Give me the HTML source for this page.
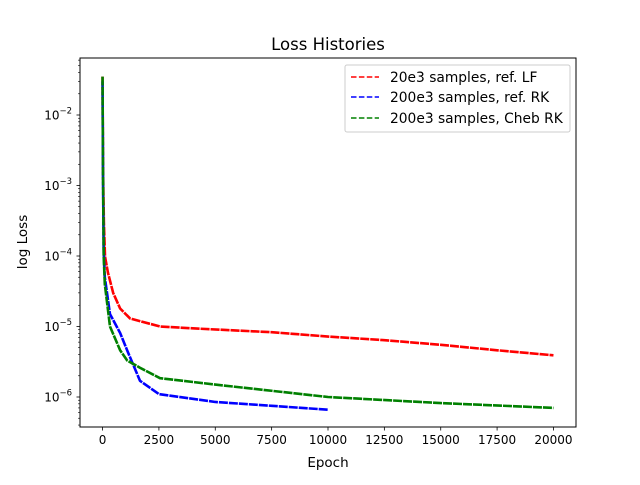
<!DOCTYPE html>
<html><head><meta charset="utf-8"><style>
body{margin:0;background:#fff}
svg{font-family:"DejaVu Sans","Liberation Sans",sans-serif}
</style></head><body>
<svg id="chart" width="640" height="480" viewBox="0 0 640 480">
<rect width="640" height="480" fill="#fff"/>
<text x="328" y="50" font-size="16.5" text-anchor="middle">Loss Histories</text>
<g id="plot"></g>
<rect x="80" y="58" width="496" height="369" fill="none" stroke="#000" stroke-width="1"/>
<text x="328" y="467" font-size="13.5" text-anchor="middle">Epoch</text>
<text transform="translate(27,242) rotate(-90)" font-size="13.5" text-anchor="middle">log Loss</text>
<g>
<rect x="345" y="65" width="225" height="67" rx="2" fill="#fff" fill-opacity="0.8" stroke="#ccc"/>
<g><line x1="351" y1="77" x2="379" y2="77" stroke="red" stroke-width="1.5" stroke-dasharray="5.5,2.4"/><text x="390" y="82" font-size="13.8">20e3 samples, ref. LF</text></g>
<g><line x1="351" y1="97" x2="379" y2="97" stroke="blue" stroke-width="1.5" stroke-dasharray="5.5,2.4"/><text x="390" y="102" font-size="13.8">200e3 samples, ref. RK</text></g>
<g><line x1="351" y1="118" x2="379" y2="118" stroke="green" stroke-width="1.5" stroke-dasharray="5.5,2.4"/><text x="390" y="123" font-size="13.8">200e3 samples, Cheb RK</text></g>
</g>
</svg>
<script>
const xTicks=[0,2500,5000,7500,10000,12500,15000,17500,20000];
const yDecades=[-2,-3,-4,-5,-6];
const redEpochs=[0,20,60,110,240,470,780,1220,2550,4320,7500,10000,12500,15000,17500,20000];
const redLoss=[0.035,2e-3,3e-4,9.8e-5,5.8e-5,3.0e-5,1.8e-5,1.3e-5,1.0e-5,9.3e-6,8.3e-6,7.2e-6,6.4e-6,5.5e-6,4.6e-6,3.9e-6];
const blueEpochs=[0,20,50,100,330,780,1090,1660,2500,5000,7500,10000];
const blueLoss=[0.03,1.5e-3,1.2e-4,5e-5,1.5e-5,8.1e-6,4.6e-6,1.7e-6,1.1e-6,8.5e-7,7.5e-7,6.6e-7];
const greenEpochs=[0,20,50,100,330,780,1090,1660,2550,5000,10000,15000,20000];
const greenLoss=[0.035,1.5e-3,1.0e-4,4e-5,1.0e-5,4.6e-6,3.3e-6,2.6e-6,1.85e-6,1.5e-6,1.0e-6,8.2e-7,7.0e-7];
const NS="http://www.w3.org/2000/svg";
const X=e=>80+(e+1000)*496/22000;
const Y=v=>115-(Math.log10(v)+2)*70.5;
const g=document.getElementById('plot');
function mk(t,a){const el=document.createElementNS(NS,t);for(const k in a)el.setAttribute(k,a[k]);g.appendChild(el);return el;}
xTicks.forEach(t=>{
  const l=mk('line',{x1:X(t),x2:X(t),y1:427,y2:430.5,stroke:'#000','stroke-width':0.8});
  
  
  const tx=mk('text',{x:X(t),y:444,'font-size':12,'text-anchor':'middle'});tx.textContent=t;
  
  
});
for(let d=-7;d<=-1;d++){for(let m=2;m<=9;m++){const y=Y(m*Math.pow(10,d));if(y>58&&y<427){
  const l=mk('line',{x1:78,x2:80,y1:y,y2:y,stroke:'#000','stroke-width':0.6});
  
  }}}
yDecades.forEach(d=>{const y=Y(Math.pow(10,d));
  const l=mk('line',{x1:76.5,x2:80,y1:y,y2:y,stroke:'#000','stroke-width':0.8});
  
  
  const tx=mk('text',{x:72,y:y+4.5,'font-size':12,'text-anchor':'end'});
  
  
  const a=document.createElementNS(NS,'tspan');a.textContent='10';tx.appendChild(a);
  const b=document.createElementNS(NS,'tspan');b.setAttribute('dy','-6');b.setAttribute('font-size','8.5');b.textContent='\u2212'+(-d);tx.appendChild(b);
});
function series(ep,ls,c,name){
  const p=mk('polyline',{points:ep.map((e,i)=>X(e)+','+Y(ls[i])).join(' '),fill:'none',stroke:c,'stroke-width':2.6,'stroke-dasharray':'9,1','stroke-linejoin':'round'});
  
  
}
series(redEpochs,redLoss,'red','series-20e3-ref-lf');
series(blueEpochs,blueLoss,'blue','series-200e3-ref-rk');
series(greenEpochs,greenLoss,'green','series-200e3-cheb-rk');
</script>
</body></html>
